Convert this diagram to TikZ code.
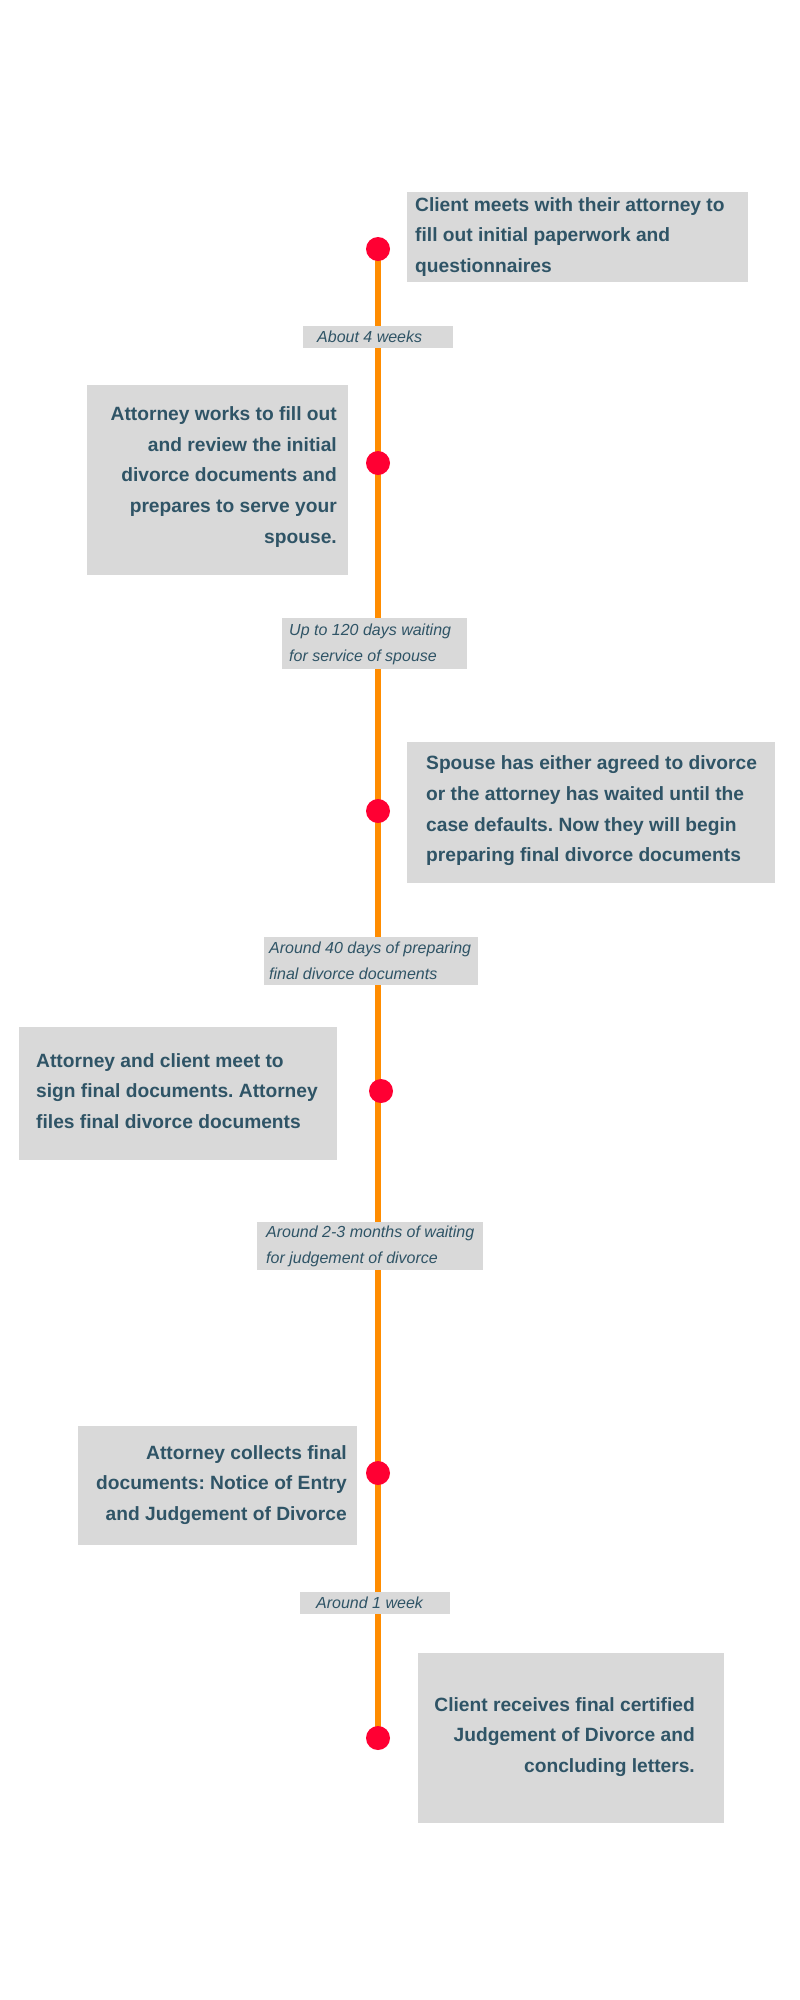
\documentclass[tikz,border=0pt]{standalone}
\usepackage{fontspec}
\setmainfont{Liberation Sans}
\definecolor{slate}{HTML}{2F5466}
\definecolor{boxgray}{HTML}{D9D9D9}
\definecolor{lineorange}{HTML}{FF8C00}
\definecolor{dotred}{HTML}{FF0033}
\frenchspacing
\begin{document}
\begin{tikzpicture}[x=1pt, y=-1pt,
  evtext/.style={font=\fontsize{19.2}{30.7}\selectfont\bfseries, text=slate, inner sep=0pt},
  waittext/.style={font=\fontsize{16}{26}\selectfont\itshape, text=slate, inner sep=0pt, align=left, anchor=west}]
  % 页面（800 x 2000）
  \fill[white] (0,0) rectangle (800,2000);
  \useasboundingbox (0,0) rectangle (800,2000);

  % 时间轴上的节点位置
  \coordinate (d1) at (378,249);
  \coordinate (d2) at (378,463);
  \coordinate (d3) at (378,811);
  \coordinate (d4) at (381,1091);
  \coordinate (d5) at (378,1473);
  \coordinate (d6) at (378,1738);

  % 橙色主轴
  \draw[lineorange, line width=6pt] (d1) -- (d6);

  % 事件框（灰底）
  \fill[boxgray] (407,192) rectangle (748,282);
  \fill[boxgray] (87,385) rectangle (348,575);
  \fill[boxgray] (407,742) rectangle (775,883);
  \fill[boxgray] (19,1027) rectangle (337,1160);
  \fill[boxgray] (78,1426) rectangle (357,1545);
  \fill[boxgray] (418,1653) rectangle (724,1823);

  % 事件文字：左右交替
  \node[evtext, align=left, anchor=west] (ev1) at (415,237)
    {Client meets with their attorney to\\fill out initial paperwork and\\questionnaires};
  \node[evtext, align=right, anchor=east] (ev2) at (337,477)
    {Attorney works to fill out\\and review the initial\\divorce documents and\\prepares to serve your\\spouse.};
  \node[evtext, align=left, anchor=west] (ev3) at (426,811)
    {Spouse has either agreed to divorce\\or the attorney has waited until the\\case defaults. Now they will begin\\preparing final divorce documents};
  \node[evtext, align=left, anchor=west] (ev4) at (36,1091)
    {Attorney and client meet to\\sign final documents. Attorney\\files final divorce documents};
  \node[evtext, align=right, anchor=east] (ev5) at (347,1485)
    {Attorney collects final\\documents: Notice of Entry\\and Judgement of Divorce};
  \node[evtext, align=right, anchor=east] (ev6) at (695,1737)
    {Client receives final certified\\Judgement of Divorce and\\concluding letters.};

  % 等待时间标签（盖在主轴上）
  \fill[boxgray] (303,326) rectangle (453,348);
  \fill[boxgray] (282,618) rectangle (467,669);
  \fill[boxgray] (264,937) rectangle (478,985);
  \fill[boxgray] (257,1222) rectangle (483,1270);
  \fill[boxgray] (300,1592) rectangle (450,1614);
  \node[waittext] (wait1) at (317,337) {About 4 weeks};
  \node[waittext] (wait2) at (289,644) {Up to 120 days waiting\\for service of spouse};
  \node[waittext] (wait3) at (269,961) {Around 40 days of preparing\\final divorce documents};
  \node[waittext] (wait4) at (266,1246) {Around 2-3 months of waiting\\for judgement of divorce};
  \node[waittext] (wait5) at (316,1603) {Around 1 week};

  % 红点
  \fill[dotred] (d1) circle (12);
  \fill[dotred] (d2) circle (12);
  \fill[dotred] (d3) circle (12);
  \fill[dotred] (d4) circle (12);
  \fill[dotred] (d5) circle (12);
  \fill[dotred] (d6) circle (12);
\end{tikzpicture}
\end{document}
